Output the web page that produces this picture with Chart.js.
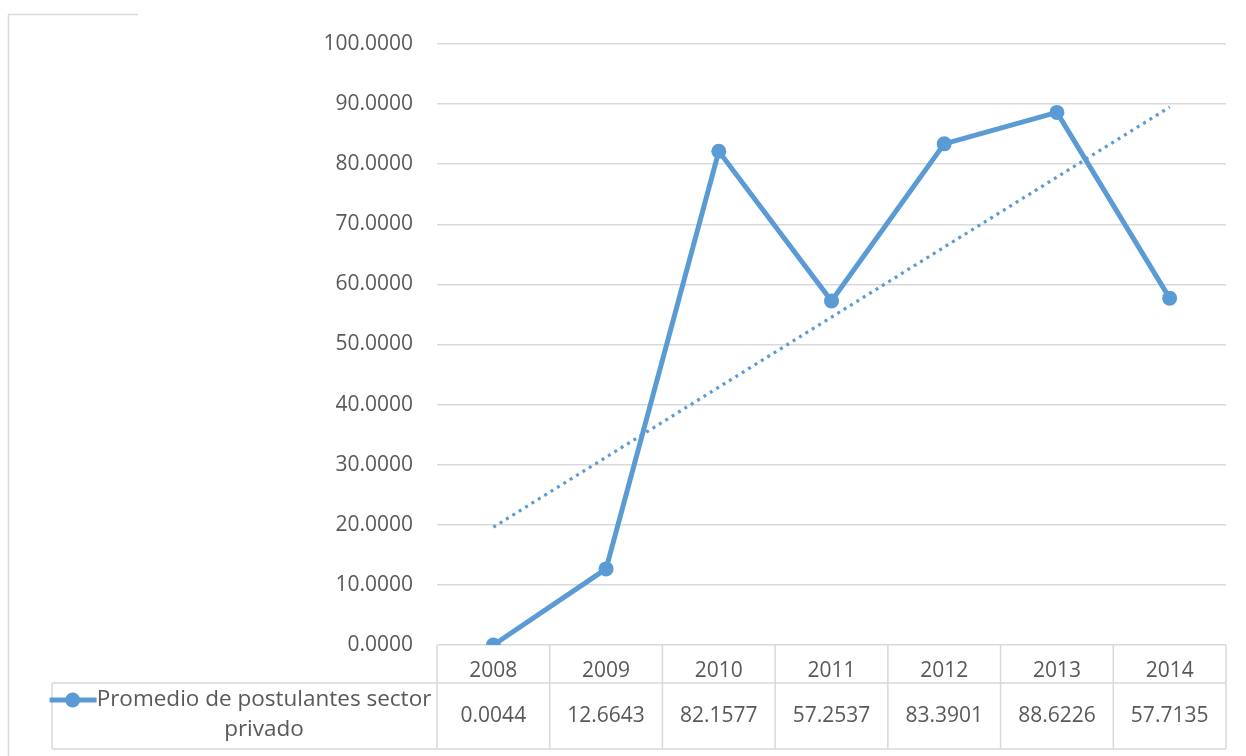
<!doctype html>
<html>
<head>
	<title>Promedio de postulantes sector privado</title>
	<meta charset=utf-8>
	<script src="https://cdn.jsdelivr.net/npm/chart.js@4/dist/chart.umd.min.js"></script>
	<style>
		body { margin: 0; background: #fff; }
	</style>
</head>
<body>
	<canvas id="chart-area" width="1246" height="756"></canvas>

	<script>
		var years = ['2008', '2009', '2010', '2011', '2012', '2013', '2014'];
		var promedio = [0.0044, 12.6643, 82.1577, 57.2537, 83.3901, 88.6226, 57.7135];
		// linear trend line, ends
		var tendencia = [19.6, null, null, null, null, null, 89.5];
		var seriesName = ['Promedio de postulantes sector', 'privado'];

		var blue = '#5b9bd5';
		var grey = '#d9d9d9';
		var textColor = '#595959';
		var fontName = "'Open Sans', sans-serif";

		// data table under the plot + frame
		var tablePlugin = {
			id: 'dataTable',
			afterDraw: function(chart) {
				var ctx = chart.ctx;
				var area = chart.chartArea;
				var x = chart.scales.x;
				var headTop = area.bottom;
				var rowTop = 683;
				var rowBottom = 749;
				var legendLeft = 52;
				var colW = (area.right - area.left) / years.length;

				ctx.save();
				ctx.strokeStyle = grey;
				ctx.lineWidth = 1.5;
				ctx.beginPath();
				// frame
				ctx.moveTo(8.5, 14); ctx.lineTo(8.5, 756);
				ctx.moveTo(8, 14.5); ctx.lineTo(138, 14.5);
				// table rows
				ctx.moveTo(legendLeft, rowTop); ctx.lineTo(area.right, rowTop);
				ctx.moveTo(legendLeft, rowBottom); ctx.lineTo(area.right, rowBottom);
				ctx.moveTo(legendLeft, rowTop); ctx.lineTo(legendLeft, rowBottom);
				for (var i = 0; i <= years.length; i++) {
					var cx = area.left + i * colW;
					ctx.moveTo(cx, headTop); ctx.lineTo(cx, rowBottom);
				}
				ctx.stroke();

				// values
				ctx.fillStyle = textColor;
				ctx.font = '21px ' + fontName;
				ctx.textAlign = 'center';
				ctx.textBaseline = 'middle';
				for (var j = 0; j < promedio.length; j++) {
					ctx.fillText(promedio[j].toFixed(4), x.getPixelForTick(j), 716);
				}

				// legend cell
				var textX = 264;
				ctx.font = '22.5px ' + fontName;
				ctx.fillText(seriesName[0], textX, 700);
				ctx.fillText(seriesName[1], textX, 730);
				var w = ctx.measureText(seriesName[0]).width;
				var symEnd = textX - w / 2;
				ctx.strokeStyle = blue;
				ctx.lineWidth = 5;
				ctx.beginPath();
				ctx.moveTo(symEnd - 47, 700);
				ctx.lineTo(symEnd, 700);
				ctx.stroke();
				ctx.fillStyle = blue;
				ctx.beginPath();
				ctx.arc(symEnd - 24, 700, 7.5, 0, Math.PI * 2);
				ctx.fill();
				ctx.restore();
			}
		};

		var config = {
			type: 'line',
			data: {
				labels: years,
				datasets: [{
					label: seriesName.join(' '),
					data: promedio,
					borderColor: blue,
					backgroundColor: blue,
					borderWidth: 5,
					pointRadius: 7.5,
					pointBorderWidth: 0,
					pointBackgroundColor: blue,
					tension: 0,
					order: 1
				}, {
					label: 'Tendencia',
					data: tendencia,
					borderColor: blue,
					borderWidth: 3.2,
					borderDash: [3, 4.5],
					pointRadius: 0,
					spanGaps: true,
					order: 2
				}]
			},
			options: {
				responsive: false,
				animation: false,
				layout: {
					padding: { left: 0, right: 20, top: 44, bottom: 73 }
				},
				plugins: {
					legend: { display: false },
					tooltip: { enabled: false }
				},
				scales: {
					x: {
						offset: true,
						grid: { display: false },
						border: { display: false },
						ticks: {
							color: textColor,
							font: { family: fontName, size: 21 },
							padding: 5,
							maxRotation: 0
						},
						afterFit: function(scale) { scale.height = 38; }
					},
					y: {
						min: 0,
						max: 100,
						grid: { color: grey, lineWidth: 1.5, drawTicks: false },
						border: { display: false },
						ticks: {
							stepSize: 10,
							color: textColor,
							font: { family: fontName, size: 21 },
							padding: 24,
							callback: function(v) { return v.toFixed(4); }
						},
						afterFit: function(scale) { scale.width = 437; }
					}
				}
			},
			plugins: [tablePlugin]
		};

		window.myLine = new Chart(document.getElementById('chart-area').getContext('2d'), config);
	</script>
</body>
</html>
